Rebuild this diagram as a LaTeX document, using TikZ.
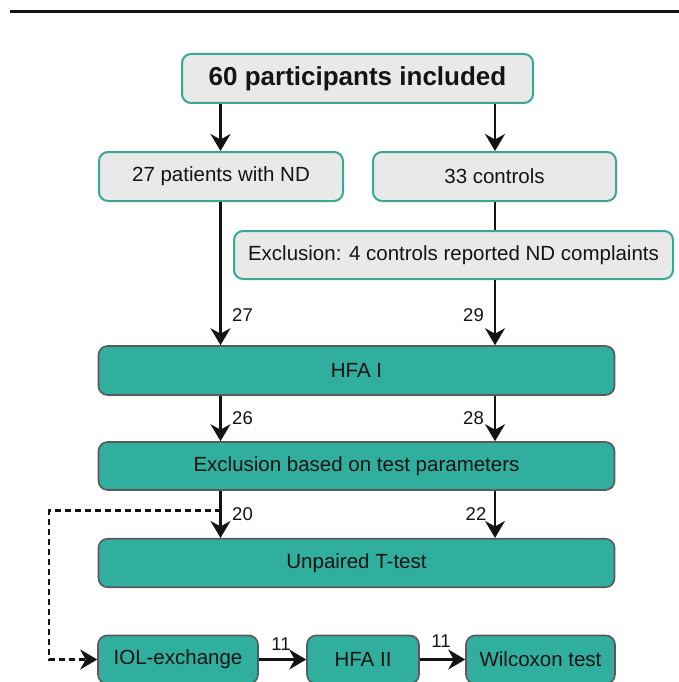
\documentclass[tikz,border=0pt]{standalone}
\usepackage{fontspec}
\setmainfont{Liberation Sans}
\usetikzlibrary{arrows.meta}
\definecolor{tealfill}{RGB}{48,174,158}
\definecolor{tealline}{RGB}{58,166,150}
\definecolor{lightfill}{RGB}{233,233,233}
\definecolor{boxgray}{RGB}{90,90,90}
\definecolor{ink}{RGB}{20,20,20}
\tikzset{
  lightbox/.style={draw=tealline, line width=2pt, fill=lightfill, rounded corners=9pt,
    inner sep=0pt, font=\fontsize{20.5}{24}\selectfont, text=ink},
  tealbox/.style={draw=boxgray, line width=1.6pt, fill=tealfill, rounded corners=9pt,
    inner sep=0pt, font=\fontsize{20.5}{24}\selectfont, text=ink},
  arr/.style={draw=ink, line width=2.3pt, -{Stealth[length=17pt,width=20pt,inset=5.5pt]}},
  plain/.style={draw=ink, line width=2.3pt},
  dashline/.style={draw=ink, line width=2.2pt, dash pattern=on 6pt off 4pt, -{Stealth[length=17pt,width=20pt,inset=5.5pt]}},
  numlbl/.style={font=\fontsize{18.5}{21}\selectfont, text=ink, inner sep=0pt}
}
\begin{document}
\begin{tikzpicture}[x=1pt,y=-1pt]
\useasboundingbox (0,0) rectangle (679,682);
\draw[line width=3pt, ink] (10,12) -- (679,12);
\coordinate (L) at (220.5,0);
\coordinate (R) at (495,0);
\node[lightbox, minimum width=351pt, minimum height=49pt, font=\fontsize{26}{30}\selectfont\bfseries] (top) at (357.5,78.5) {60 participants included};
\node[lightbox, minimum width=244pt, minimum height=49pt] (pat) at (221,176.5) {27 patients with ND};
\node[lightbox, minimum width=243pt, minimum height=49pt] (con) at (494.5,176.5) {33 controls};
\node[lightbox, minimum width=439pt, minimum height=48pt] (excl) at (453.5,255) {Exclusion: 4 controls reported ND complaints};
\node[tealbox, minimum width=516pt, minimum height=49pt] (hfa1) at (356.5,370.5) {HFA I};
\node[tealbox, minimum width=516pt, minimum height=48pt] (exb) at (356.5,466) {Exclusion based on test parameters};
\node[tealbox, minimum width=516pt, minimum height=48.5pt] (unp) at (356.5,563) {Unpaired T-test};
\node[tealbox, minimum width=160pt, minimum height=48pt] (iol) at (178,659.5) {IOL-exchange};
\node[tealbox, minimum width=112pt, minimum height=48pt] (hfa2) at (363,659.5) {HFA II};
\node[tealbox, minimum width=149pt, minimum height=48pt] (wil) at (540.5,659.5) {Wilcoxon test};

\draw[arr] (top.south -| L) -- (pat.north -| L);
\draw[arr] (top.south -| R) -- (con.north -| R);
\draw[plain] (con.south -| R) -- (excl.north -| R);
\draw[arr] (pat.south -| L) -- (hfa1.north -| L);
\draw[arr] (excl.south -| R) -- (hfa1.north -| R);
\draw[arr] (hfa1.south -| L) -- (exb.north -| L);
\draw[arr] (hfa1.south -| R) -- (exb.north -| R);
\draw[arr] (exb.south -| L) -- (unp.north -| L);
\draw[arr] (exb.south -| R) -- (unp.north -| R);
\coordinate (d0) at (220.5,510.5);
\coordinate (d1) at (49,510.5);
\draw[dashline] (d0) -- (d1) |- (iol.west);
\draw[arr] (iol.east) -- (hfa2.west);
\draw[arr] (hfa2.east) -- (wil.west);

\node[numlbl] (n27) at (242.5,315) {27};
\node[numlbl] (n29) at (473.5,315) {29};
\node[numlbl] (n26) at (242.5,418) {26};
\node[numlbl] (n28) at (473.5,418) {28};
\node[numlbl] (n20) at (242.5,514) {20};
\node[numlbl] (n22) at (476,514) {22};
\node[numlbl] (n11a) at (281,644) {11};
\node[numlbl] (n11b) at (441,641) {11};
\end{tikzpicture}
\end{document}
